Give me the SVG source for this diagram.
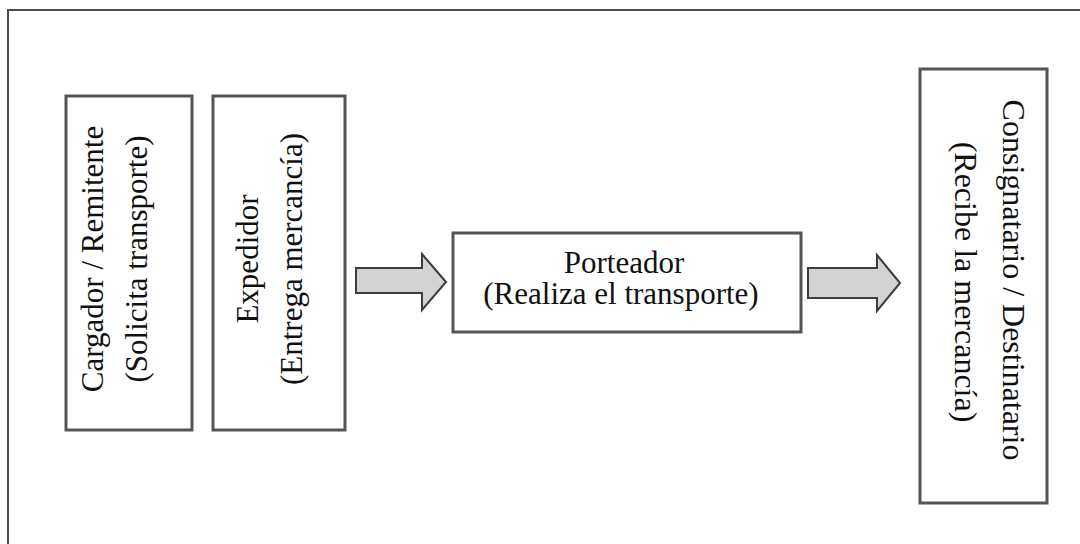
<svg xmlns="http://www.w3.org/2000/svg" width="1080" height="544" viewBox="0 0 1080 544">
  <style>
    .frame { fill: none; stroke: #4a4a4a; stroke-width: 2; }
    .box { fill: #ffffff; stroke: #555555; stroke-width: 3; }
    .arrow { fill: #d3d3d3; stroke: #3c3c3c; stroke-width: 2; stroke-linejoin: miter; }
    .label { font-family: "Liberation Serif", "Times New Roman", serif; font-size: 31px; fill: #111111; text-anchor: middle; }
    .big { font-size: 32px; }
  </style>
  <rect width="1080" height="544" fill="#ffffff"/>
  <!-- outer frame, open to the right and bottom -->
  <rect class="frame" x="8" y="10" width="1090" height="560"/>

  <g id="cargador">
    <rect class="box" x="66" y="96" width="126" height="334"/>
    <text class="label" transform="translate(103,259) rotate(-90)">Cargador / Remitente</text>
    <text class="label" transform="translate(147,259) rotate(-90)">(Solicita transporte)</text>
  </g>

  <g id="expedidor">
    <rect class="box" x="213" y="96" width="132" height="334"/>
    <text class="label" transform="translate(258,259) rotate(-90)">Expedidor</text>
    <text class="label" transform="translate(302,259) rotate(-90)">(Entrega mercancía)</text>
  </g>

  <g id="porteador">
    <rect class="box" x="453" y="233" width="348" height="99"/>
    <text class="label" x="624" y="273">Porteador</text>
    <text class="label" x="621" y="304">(Realiza el transporte)</text>
  </g>

  <g id="consignatario">
    <rect class="box" x="920" y="69" width="127" height="434"/>
    <text class="label big" transform="translate(1003,280) rotate(90)">Consignatario / Destinatario</text>
    <text class="label big" transform="translate(955,282) rotate(90)">(Recibe la mercancía)</text>
  </g>

  <g id="connectors">
    <path class="arrow" d="M356 268 H422 V254 L446 282 L422 310 V293 H356 Z"/>
    <path class="arrow" d="M808 268 H877 V255 L900 283 L877 311 V298 H808 Z"/>
  </g>
</svg>
